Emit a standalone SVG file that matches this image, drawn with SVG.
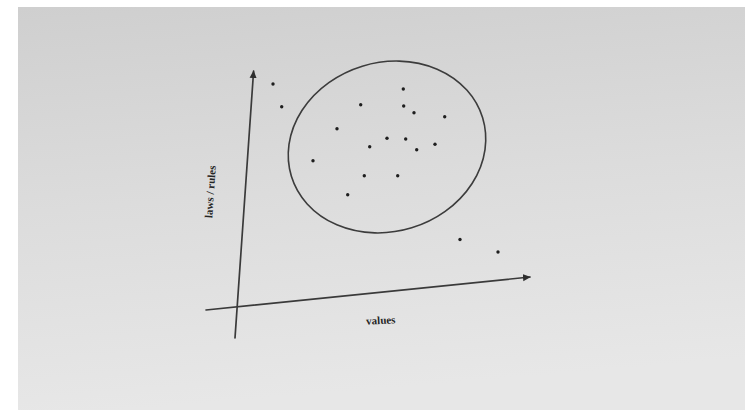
<svg xmlns="http://www.w3.org/2000/svg" width="750" height="410" viewBox="0 0 750 410">
  <defs>
    <linearGradient id="paper" x1="0" y1="0" x2="0.15" y2="1">
      <stop offset="0" stop-color="#cfcfcf"/>
      <stop offset="0.5" stop-color="#dcdcdc"/>
      <stop offset="1" stop-color="#e7e7e7"/>
    </linearGradient>
    <marker id="arrow" viewBox="0 0 10 10" refX="9" refY="5" markerWidth="4.6" markerHeight="4.6" orient="auto" markerUnits="strokeWidth">
      <path d="M0,0.5 L10,5 L0,9.5 z" fill="#2e2e2e"/>
    </marker>
  </defs>
  <style>
    .axis { stroke: #3a3a3a; stroke-width: 1.7; fill: none; stroke-linecap: round; }
    .dot { fill: #1e1e1e; }
    .lbl { font-family: "Liberation Serif", "DejaVu Serif", serif; font-size: 11px; fill: #262626; font-weight: bold; }
  </style>
  <rect x="0" y="0" width="750" height="410" fill="#ffffff"/>
  <rect x="18" y="7" width="727" height="403" fill="url(#paper)"/>

  <g id="connectors">
    <line class="axis" x1="235" y1="338" x2="253.6" y2="71" marker-end="url(#arrow)"/>
    <line class="axis" x1="206" y1="310" x2="530" y2="277" marker-end="url(#arrow)"/>
  </g>

  <g id="cluster">
    <ellipse cx="387" cy="147" rx="100" ry="84.5" transform="rotate(-17 387 147)" fill="none" stroke="#3c3c3c" stroke-width="1.6"/>
  </g>

  <g id="dots">
    <circle class="dot" cx="403.3" cy="89" r="1.7"/>
    <circle class="dot" cx="360.7" cy="104.7" r="1.7"/>
    <circle class="dot" cx="403.7" cy="106" r="1.7"/>
    <circle class="dot" cx="414" cy="112.7" r="1.7"/>
    <circle class="dot" cx="444.7" cy="116.7" r="1.7"/>
    <circle class="dot" cx="337" cy="128.7" r="1.7"/>
    <circle class="dot" cx="387" cy="138.3" r="1.7"/>
    <circle class="dot" cx="405.7" cy="139" r="1.7"/>
    <circle class="dot" cx="369.7" cy="146.7" r="1.7"/>
    <circle class="dot" cx="435" cy="144.3" r="1.7"/>
    <circle class="dot" cx="416.7" cy="149.7" r="1.7"/>
    <circle class="dot" cx="313" cy="160.7" r="1.7"/>
    <circle class="dot" cx="364.3" cy="175.7" r="1.7"/>
    <circle class="dot" cx="397.7" cy="175.7" r="1.7"/>
    <circle class="dot" cx="347.7" cy="194.7" r="1.7"/>
    <circle class="dot" cx="273" cy="84" r="1.7"/>
    <circle class="dot" cx="281.7" cy="106.7" r="1.7"/>
    <circle class="dot" cx="460" cy="239.5" r="1.7"/>
    <circle class="dot" cx="498" cy="252" r="1.7"/>
  </g>

  <g id="label-y">
    <text class="lbl" x="0" y="0" text-anchor="middle" transform="translate(214 192) rotate(-86)">laws / rules</text>
  </g>
  <g id="label-x">
    <text class="lbl" x="0" y="0" text-anchor="middle" transform="translate(381 324) rotate(-3)">values</text>
  </g>
</svg>
